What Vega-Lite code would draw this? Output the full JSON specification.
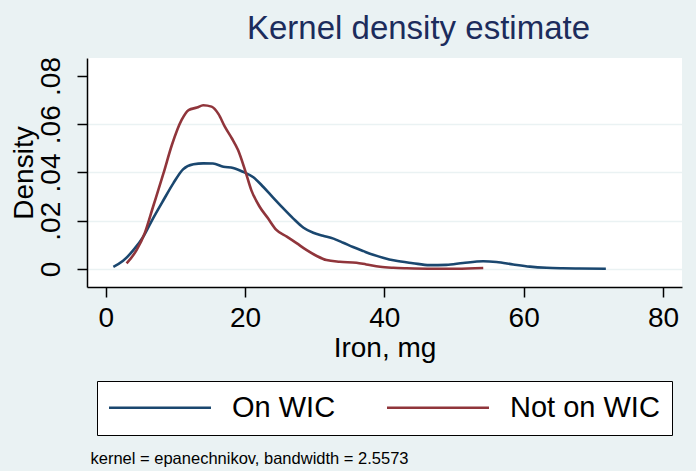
{
  "$schema": "https://vega.github.io/schema/vega-lite/v6.json",
  "width": 595,
  "height": 229,
  "autosize": {"type": "none"},
  "padding": {"left": 87, "top": 58, "right": 14, "bottom": 184},
  "background": "#EAF2F3",
  "view": {"fill": "white", "stroke": null},
  "title": {
    "text": "Kernel density estimate",
    "font": "Liberation Sans",
    "fontSize": 33,
    "fontWeight": "normal",
    "color": "#1c2c5c",
    "anchor": "middle",
    "frame": "group",
    "dx": 34,
    "offset": 11
  },
  "config": {
    "font": "Liberation Sans"
  },
  "data": {
    "values": [
      {"group": "On WIC", "x": 1.1, "y": 0.0009},
      {"group": "On WIC", "x": 2.5, "y": 0.0034},
      {"group": "On WIC", "x": 4.0, "y": 0.0079},
      {"group": "On WIC", "x": 5.4, "y": 0.0134},
      {"group": "On WIC", "x": 6.8, "y": 0.021},
      {"group": "On WIC", "x": 8.3, "y": 0.0286},
      {"group": "On WIC", "x": 9.7, "y": 0.0355},
      {"group": "On WIC", "x": 11.1, "y": 0.0413},
      {"group": "On WIC", "x": 12.6, "y": 0.0434},
      {"group": "On WIC", "x": 14.0, "y": 0.0438},
      {"group": "On WIC", "x": 15.4, "y": 0.0437},
      {"group": "On WIC", "x": 16.9, "y": 0.0424},
      {"group": "On WIC", "x": 18.3, "y": 0.0419},
      {"group": "On WIC", "x": 19.7, "y": 0.0403},
      {"group": "On WIC", "x": 21.2, "y": 0.038},
      {"group": "On WIC", "x": 22.6, "y": 0.0341},
      {"group": "On WIC", "x": 24.0, "y": 0.0297},
      {"group": "On WIC", "x": 25.5, "y": 0.0251},
      {"group": "On WIC", "x": 26.9, "y": 0.021},
      {"group": "On WIC", "x": 28.4, "y": 0.0171},
      {"group": "On WIC", "x": 29.8, "y": 0.015},
      {"group": "On WIC", "x": 31.2, "y": 0.0138},
      {"group": "On WIC", "x": 32.7, "y": 0.0126},
      {"group": "On WIC", "x": 34.1, "y": 0.0109},
      {"group": "On WIC", "x": 35.5, "y": 0.0091},
      {"group": "On WIC", "x": 37.0, "y": 0.0074},
      {"group": "On WIC", "x": 38.4, "y": 0.0059},
      {"group": "On WIC", "x": 39.8, "y": 0.0047},
      {"group": "On WIC", "x": 41.5, "y": 0.0035},
      {"group": "On WIC", "x": 44.1, "y": 0.0024},
      {"group": "On WIC", "x": 46.5, "y": 0.0016},
      {"group": "On WIC", "x": 48.9, "y": 0.0017},
      {"group": "On WIC", "x": 51.3, "y": 0.0025},
      {"group": "On WIC", "x": 54.2, "y": 0.0032},
      {"group": "On WIC", "x": 56.1, "y": 0.0029},
      {"group": "On WIC", "x": 58.5, "y": 0.0019},
      {"group": "On WIC", "x": 60.9, "y": 0.001},
      {"group": "On WIC", "x": 63.3, "y": 0.0005},
      {"group": "On WIC", "x": 65.6, "y": 0.0003},
      {"group": "On WIC", "x": 68.0, "y": 0.0002},
      {"group": "On WIC", "x": 71.8, "y": 0.0001},
      {"group": "Not on WIC", "x": 3.0, "y": 0.0023},
      {"group": "Not on WIC", "x": 4.45, "y": 0.0079},
      {"group": "Not on WIC", "x": 5.6, "y": 0.0148},
      {"group": "Not on WIC", "x": 6.8, "y": 0.0258},
      {"group": "Not on WIC", "x": 8.3, "y": 0.0397},
      {"group": "Not on WIC", "x": 9.5, "y": 0.0514},
      {"group": "Not on WIC", "x": 10.9, "y": 0.0618},
      {"group": "Not on WIC", "x": 11.9, "y": 0.0659},
      {"group": "Not on WIC", "x": 13.1, "y": 0.0669},
      {"group": "Not on WIC", "x": 14.0, "y": 0.0679},
      {"group": "Not on WIC", "x": 15.2, "y": 0.0673},
      {"group": "Not on WIC", "x": 16.2, "y": 0.0642},
      {"group": "Not on WIC", "x": 17.1, "y": 0.059},
      {"group": "Not on WIC", "x": 18.1, "y": 0.0542},
      {"group": "Not on WIC", "x": 19.0, "y": 0.0493},
      {"group": "Not on WIC", "x": 20.0, "y": 0.041},
      {"group": "Not on WIC", "x": 20.9, "y": 0.0327},
      {"group": "Not on WIC", "x": 22.1, "y": 0.0258},
      {"group": "Not on WIC", "x": 23.3, "y": 0.021},
      {"group": "Not on WIC", "x": 24.5, "y": 0.0162},
      {"group": "Not on WIC", "x": 26.0, "y": 0.0134},
      {"group": "Not on WIC", "x": 27.4, "y": 0.0107},
      {"group": "Not on WIC", "x": 28.8, "y": 0.0079},
      {"group": "Not on WIC", "x": 30.3, "y": 0.0054},
      {"group": "Not on WIC", "x": 31.7, "y": 0.0037},
      {"group": "Not on WIC", "x": 33.6, "y": 0.003},
      {"group": "Not on WIC", "x": 36.0, "y": 0.0026},
      {"group": "Not on WIC", "x": 37.4, "y": 0.0019},
      {"group": "Not on WIC", "x": 39.4, "y": 0.0009},
      {"group": "Not on WIC", "x": 41.3, "y": 0.0005},
      {"group": "Not on WIC", "x": 43.2, "y": 0.0003},
      {"group": "Not on WIC", "x": 47.0, "y": 0.0001},
      {"group": "Not on WIC", "x": 50.4, "y": 0.0001},
      {"group": "Not on WIC", "x": 54.2, "y": 0.0004}
    ]
  },
  "resolve": {"axis": {"x": "independent"}},
  "layer": [
    {
      "mark": {"type": "line", "strokeWidth": 2.6, "interpolate": "monotone"},
      "encoding": {
        "x": {
          "field": "x",
          "type": "quantitative",
          "scale": {"domain": [-2.684, 82.73], "nice": false, "zero": false},
          "axis": {
            "orient": "bottom",
            "title": "Iron, mg",
            "values": [0, 20, 40, 60, 80],
            "grid": false,
            "domainColor": "black",
            "domainWidth": 1.5,
            "tickColor": "black",
            "tickWidth": 1.5,
            "tickSize": 10,
            "labelFontSize": 28,
            "labelColor": "black",
            "labelPadding": 7,
            "labelFlush": false,
            "titleFontSize": 28,
            "titleFontWeight": "normal",
            "titleColor": "black",
            "titlePadding": 2
          }
        },
        "y": {
          "field": "y",
          "type": "quantitative",
          "scale": {"domain": [-0.00746, 0.08746], "nice": false, "zero": false},
          "axis": {
            "title": "Density",
            "values": [0, 0.02, 0.04, 0.06, 0.08],
            "labelExpr": "datum.value == 0 ? '0' : replace(format(datum.value, '.2f'), '0.', '.')",
            "labelAngle": 270,
            "grid": true,
            "gridColor": {"condition": {"test": "datum.value > 0.07", "value": "transparent"}, "value": "#EAF2F3"},
            "gridWidth": 1.5,
            "domainColor": "black",
            "domainWidth": 1.5,
            "tickColor": "black",
            "tickWidth": 1.5,
            "tickSize": 10,
            "labelFontSize": 28,
            "labelColor": "black",
            "labelPadding": 12,
            "labelFlush": false,
            "titleFontSize": 28,
            "titleFontWeight": "normal",
            "titleColor": "black",
            "titlePadding": -1
          }
        },
        "color": {
          "field": "group",
          "type": "nominal",
          "scale": {"domain": ["On WIC", "Not on WIC"], "range": ["#1a476f", "#90353b"]},
          "legend": {
            "title": null,
            "orient": "none",
            "legendX": 10,
            "legendY": 323,
            "direction": "horizontal",
            "columns": 2,
            "columnPadding": 45,
            "symbolType": "M-4,0H4",
            "symbolSize": 650,
            "symbolOffset": 36.5,
            "symbolStrokeWidth": 2.6,
            "labelFontSize": 29,
            "labelColor": "black",
            "labelOffset": 57.5,
            "padding": 12,
            "strokeColor": "black",
            "fillColor": "white"
          }
        }
      }
    },
    {
      "mark": {"type": "point", "opacity": 0},
      "encoding": {
        "x": {
          "field": "x",
          "type": "quantitative",
          "scale": {"domain": [-2.684, 82.73], "nice": false, "zero": false},
          "axis": {
            "orient": "bottom",
            "offset": 163,
            "title": "kernel = epanechnikov, bandwidth = 2.5573",
            "titleAnchor": "start",
            "titleX": 3,
            "labels": false,
            "ticks": false,
            "domain": false,
            "grid": false,
            "titleFontSize": 16.5,
            "titleFontWeight": "normal",
            "titleColor": "black",
            "titlePadding": 0
          }
        }
      }
    }
  ]
}
